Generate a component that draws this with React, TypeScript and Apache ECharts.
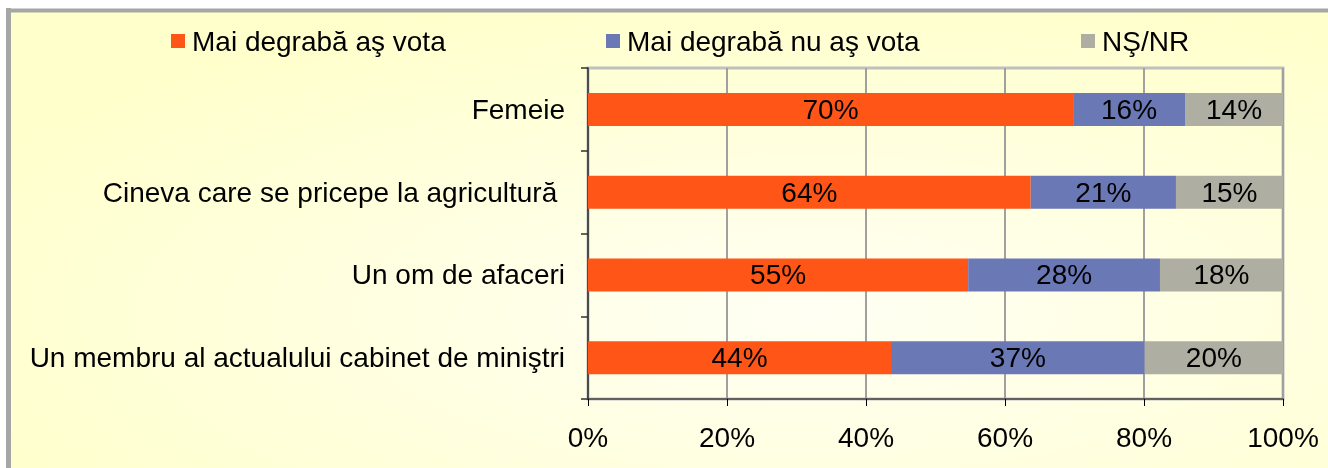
import React, { useEffect, useRef } from "react";
import * as echarts from "echarts";

const categories = [
  "Femeie",
  "Cineva care se pricepe la agricultură ",
  "Un om de afaceri",
  "Un membru al actualului cabinet de miniştri",
];
const seriesNames = ["Mai degrabă aş vota", "Mai degrabă nu aş vota", "NŞ/NR"];
const votaValues = [69.8, 63.7, 54.7, 43.6];
const nuVotaValues = [16.1, 20.9, 27.6, 36.5];
const nsnrValues = [14.1, 15.4, 17.7, 19.9];
const seriesColors = ["#FF5617", "#6B78B6", "#AEAEA2"];
const legendLefts = [166, 601, 1076];

const FONT = "'Liberation Sans', Arial, sans-serif";
const FS = 28;

export default function App() {
  const ref = useRef<HTMLDivElement>(null);
  useEffect(() => {
    if (!ref.current) return;
    const chart = echarts.init(ref.current, undefined, { renderer: "svg" });
    const values = [votaValues, nuVotaValues, nsnrValues];
    chart.setOption({
      animation: false,
      textStyle: { fontFamily: FONT },
      graphic: [
        {
          type: "rect",
          z: -10,
          silent: true,
          shape: { x: 8, y: 10, width: 1340, height: 470 },
          style: {
            fill: new echarts.graphic.RadialGradient(0.6, 0.65, 0.7, [
              { offset: 0, color: "#FFFFF4" },
              { offset: 1, color: "#FFFFCC" },
            ]),
          },
        },
        {
          type: "line",
          silent: true,
          shape: { x1: 8.5, y1: 8, x2: 8.5, y2: 480 },
          style: { stroke: "#A6A6A6", lineWidth: 5 },
        },
        {
          type: "line",
          silent: true,
          shape: { x1: 6, y1: 10.5, x2: 1348, y2: 10.5 },
          style: { stroke: "#A6A6A6", lineWidth: 4 },
        },
      ],
      legend: legendLefts.map((l, i) => ({
        data: [seriesNames[i]],
        left: l,
        top: 22,
        icon: "rect",
        itemWidth: 14,
        itemHeight: 14,
        textStyle: { fontSize: FS, color: "#000", fontFamily: FONT, padding: [0, 0, 0, 2] },
      })),
      grid: {
        left: 588,
        right: 57,
        top: 68,
        bottom: 81,
        show: true,
        borderColor: "#C0C0C0",
        borderWidth: 3,
        backgroundColor: "transparent",
      },
      xAxis: {
        type: "value",
        min: 0,
        max: 100,
        interval: 20,
        axisLine: { show: true, lineStyle: { color: "#404040", width: 1.5 } },
        axisTick: { show: true, length: 7, lineStyle: { color: "#000", width: 1 } },
        axisLabel: { formatter: "{value}%", fontSize: FS, color: "#000", margin: 24, fontFamily: FONT },
        splitLine: { show: true, lineStyle: { color: "#A0A0A0", width: 2 } },
      },
      yAxis: {
        type: "category",
        data: categories,
        inverse: true,
        offset: 2,
        axisLine: { show: true, lineStyle: { color: "#303030", width: 1.5 } },
        axisTick: { show: true, length: 7, lineStyle: { color: "#303030", width: 1.5 } },
        axisLabel: { fontSize: FS, color: "#000", margin: 21, fontFamily: FONT },
        splitLine: { show: false },
      },
      series: values.map((v, i) => ({
        name: seriesNames[i],
        type: "bar",
        stack: "total",
        barWidth: 33,
        data: v,
        itemStyle: { color: seriesColors[i] },
        label: {
          show: true,
          position: "inside",
          fontSize: FS,
          color: "#000",
          fontFamily: FONT,
          formatter: (p: any) => Math.round(p.value) + "%",
        },
      })),
    });
    return () => chart.dispose();
  }, []);
  return (
    <div
      ref={ref}
      style={{ position: "fixed", left: 0, top: 0, width: 1340, height: 480 }}
    />
  );
}
